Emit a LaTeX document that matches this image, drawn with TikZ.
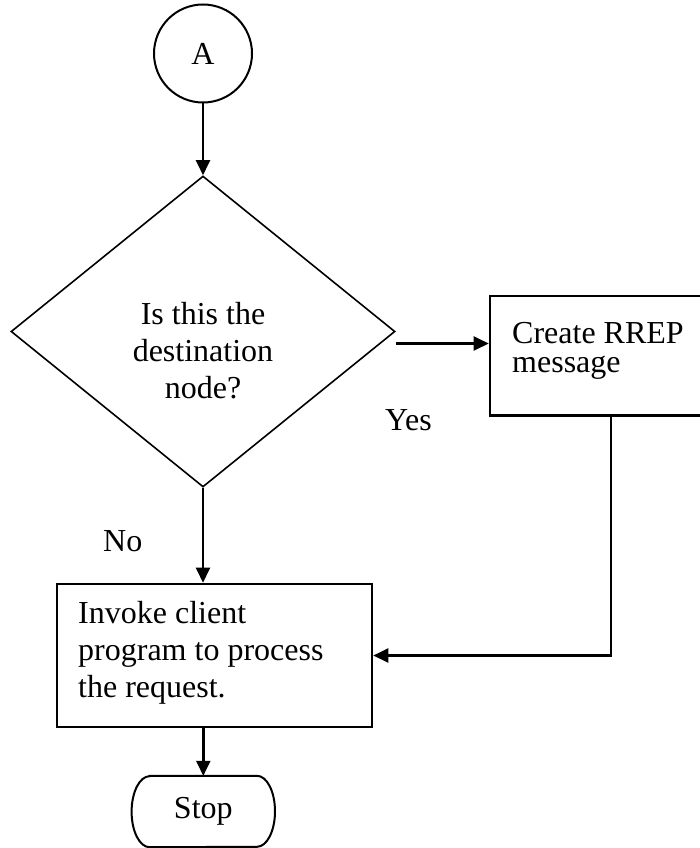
\documentclass[tikz,border=0pt]{standalone}
\usepackage{fontspec}
\setmainfont{Liberation Serif}
\usetikzlibrary{shapes.geometric,arrows.meta}
\tikzset{
  shapeline/.style={draw=black,line width=2pt},
  boxline/.style={draw=black,line width=2.6pt,rectangle,inner sep=0pt},
  arrowline/.style={draw=black,line width=2.4pt,-{Triangle[length=15pt,width=14pt]}},
  txt/.style={font=\fontsize{32}{37}\selectfont,inner sep=0pt},
}
\begin{document}
\begin{tikzpicture}[x=1pt,y=-1pt]
\useasboundingbox (0,0) rectangle (700,848);
\clip (0,0) rectangle (700,848);
\fill[white] (0,0) rectangle (700,848);
% start connector
\node[circle,shapeline,minimum size=98pt,inner sep=0pt,font=\fontsize{32}{37}\selectfont] (A) at (203,53.5) {A};
% decision
\node[diamond,draw=black,line width=1.6pt,minimum width=384pt,minimum height=311pt,inner sep=0pt] (dec) at (203,331.5) {};
\node[txt,align=center,font=\fontsize{32}{36.6}\selectfont] (q) at (203,350.6) {Is this the\\destination\\node?};
% create RREP
\node[boxline,minimum width=225pt,minimum height=119.7pt] (rrep) at (602.5,355.85) {};
\node[txt,align=left,anchor=north west,font=\fontsize{32}{29}\selectfont] (rreptext) at (512,322.4) {Create RREP\\message};
% invoke
\node[boxline,minimum width=315pt,minimum height=143pt] (invoke) at (214.5,655.5) {};
\node[txt,align=left,anchor=north west] (invoketext) at (78,601.1) {Invoke client\\program to process\\the request.};
% stop
\node[minimum width=143pt,minimum height=71pt,inner sep=0pt,font=\fontsize{32}{37}\selectfont] (stop) at (203.3,811.5) {Stop};
\draw[shapeline] ([xshift=18pt]stop.north west) -- ([xshift=-18pt]stop.north east)
  arc[start angle=-90,end angle=90,x radius=18,y radius=35.5]
  -- ([xshift=18pt]stop.south west)
  arc[start angle=90,end angle=270,x radius=18,y radius=35.5] -- cycle;
% labels
\node[txt,anchor=base west] (yes) at (385,430.7) {Yes};
\node[txt,anchor=base west] (no) at (103,551) {No};
% connectors
\draw[arrowline] (A.south) -- (dec.north);
\draw[arrowline] ([yshift=-12pt]dec.east) -- ([yshift=-12pt]dec.east -| rrep.west);
\draw[arrowline] ([xshift=122pt]rrep.south west) |- (invoke.east);
\draw[arrowline] (dec.south) -- (dec.south |- invoke.north);
\draw[arrowline] (invoke.south -| stop.north) -- (stop.north);
\end{tikzpicture}
\end{document}
